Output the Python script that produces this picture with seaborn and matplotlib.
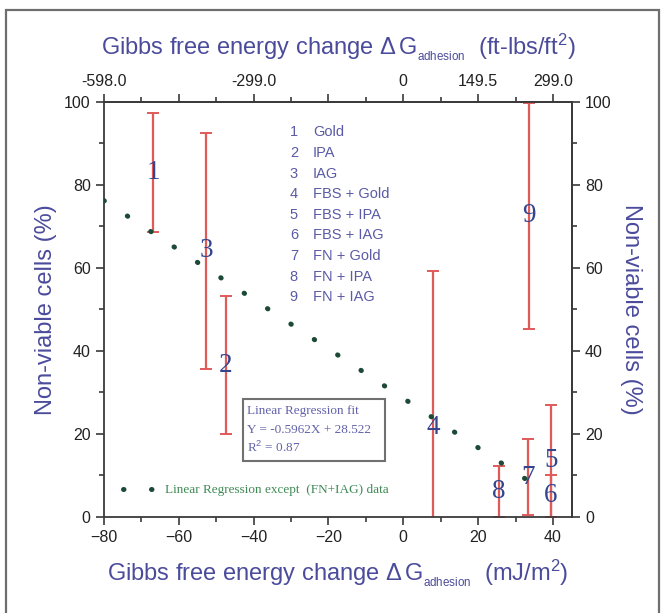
import matplotlib
matplotlib.use("Agg")
import matplotlib.pyplot as plt
import seaborn as sns
import pandas as pd
from matplotlib.patches import Rectangle

# Sample groups: marker digit, group name, adhesion free energy (mJ/m^2),
# non-viable cells (%) and the error on that percentage
labels = ["1", "2", "3", "4", "5", "6", "7", "8", "9"]
names = ["Gold", "IPA", "IAG", "FBS + Gold", "FBS + IPA", "FBS + IAG",
         "FN + Gold", "FN + IPA", "FN + IAG"]
delta_g = [-66.8, -47.4, -52.6, 7.9, 39.4, 39.4, 33.2, 25.5, 33.6]
nonviable = [83.0, 36.5, 64.1, 21.5, 13.4, 5.0, 9.5, 6.0, 72.5]
err = [14.3, 16.6, 28.5, 37.7, 13.4, 5.0, 9.2, 6.2, 27.3]

# Linear regression (all groups except FN + IAG)
slope = -0.5962
intercept = 28.522
r_squared = 0.87
fit_x = [-80.0, 34.0]

# Unit conversion used for the top axis (ft-lbs/ft^2 per mJ/m^2)
conv = 7.475
top_major = [-80, -60, -40, -20, 0, 20, 40]
top_labels = ["-598.0", "", "-299.0", "", "0", "149.5", "299.0"]

sns.set_theme(style="ticks")
plt.rcParams["font.family"] = ["Liberation Sans", "DejaVu Sans"]
plt.rcParams["mathtext.fontset"] = "custom"
plt.rcParams["mathtext.rm"] = "Liberation Sans"
plt.rcParams["mathtext.it"] = "Liberation Sans"

label_col = "#4b4b9c"
num_col = "#34458e"
bar_col = "#e05a5a"
fit_col = "#1c4a36"
axis_col = "#3a3a3a"

fig = plt.figure(figsize=(6.62, 6.13), dpi=100)
ax = fig.add_axes([0.157, 0.1574, 0.7066, 0.6762])

df = pd.DataFrame({"label": labels, "dg": delta_g, "nv": nonviable, "err": err})

# Error bars
ax.errorbar(df["dg"], df["nv"], yerr=df["err"], fmt="none", ecolor=bar_col,
            elinewidth=1.6, capsize=4, capthick=1.4, zorder=2)

# Regression line
fit_df = pd.DataFrame({"x": fit_x, "y": [slope * x + intercept for x in fit_x]})
sns.lineplot(data=fit_df, x="x", y="y", ax=ax, color=fit_col, lw=3.6,
             label="Linear Regression except  (FN+IAG) data", zorder=3)
fit_line = ax.lines[-1]
fit_line.set_linestyle((0, (0.1, 5.5)))
fit_line.set_dash_capstyle("round")

# Digit markers
for lab, x, y in zip(df["label"], df["dg"], df["nv"]):
    ax.text(x, y, lab, ha="center", va="center", fontsize=19.5,
            family=["Liberation Serif", "DejaVu Serif"], color=num_col, zorder=4)

ax.set_xlim(-80, 45)
ax.set_ylim(0, 100)
ax.set_xticks([-80, -60, -40, -20, 0, 20, 40])
ax.set_xticks(range(-70, 45, 20), minor=True)
ax.set_yticks(range(0, 101, 20))
ax.set_yticks(range(10, 100, 20), minor=True)

for s in ax.spines.values():
    s.set_visible(True)
    s.set_color(axis_col)
    s.set_linewidth(1.3)

tick_kw = dict(direction="out", colors=axis_col, labelcolor="#222222", width=1.2)
ax.tick_params(which="major", length=6, labelsize=11.5, **tick_kw)
ax.tick_params(which="minor", length=3.5, **tick_kw)

sub = r"$\Delta\,G_{_{\mathrm{adhesion}}}$"
ax.set_xlabel(f"Gibbs free energy change {sub}  (mJ/m$^2$)",
              fontsize=17, color=label_col, labelpad=9)
ax.set_ylabel("Non-viable cells (%)", fontsize=17, color=label_col, labelpad=5)

# Top axis in ft-lbs/ft^2
top = ax.secondary_xaxis("top", functions=(lambda x: x * conv, lambda x: x / conv))
top.set_xticks([v * conv for v in top_major])
top.set_xticklabels(top_labels)
top.set_xticks([v * conv for v in range(-70, 45, 20)], minor=True)
top.tick_params(which="major", length=6, labelsize=11.5, **tick_kw)
top.tick_params(which="minor", length=3.5, **tick_kw)
top.spines["top"].set_color(axis_col)
top.spines["top"].set_linewidth(1.3)
top.set_xlabel(f"Gibbs free energy change {sub}  (ft-lbs/ft$^2$)",
               fontsize=17, color=label_col, labelpad=14)

# Right axis
right = ax.secondary_yaxis("right")
right.set_yticks(range(0, 101, 20))
right.set_yticks(range(10, 100, 20), minor=True)
right.tick_params(which="major", length=6, labelsize=11.5, **tick_kw)
right.tick_params(which="minor", length=3.5, **tick_kw)
right.spines["right"].set_color(axis_col)
right.spines["right"].set_linewidth(1.3)
right.set_ylabel("Non-viable cells (%)", fontsize=17, color=label_col,
                 rotation=270, labelpad=22)

# Group key
for i, (lab, name) in enumerate(zip(labels, names)):
    yy = 0.927 - i * 0.0498
    ax.text(0.406, yy, lab, transform=ax.transAxes, ha="center", va="center",
            fontsize=10.5, color="#5a5aa6")
    ax.text(0.447, yy, name, transform=ax.transAxes, ha="left", va="center",
            fontsize=10.5, color="#5a5aa6")

# Fit summary box
ax.add_patch(Rectangle((0.297, 0.134), 0.304, 0.150, transform=ax.transAxes,
                       fill=False, edgecolor="#707070", lw=1.5, zorder=5))
fit_lines = ["Linear Regression fit",
             f"Y = {slope}X + {intercept}",
             f"R$^2$ = {r_squared}"]
for txt, yy in zip(fit_lines, [0.2534, 0.2092, 0.1657]):
    ax.text(0.306, yy, txt, transform=ax.transAxes, ha="left", va="center",
            fontsize=9.5, family=["Liberation Serif", "DejaVu Serif"], color="#6262aa")

leg = ax.legend(loc="lower left", bbox_to_anchor=(0.015, 0.02), frameon=False,
                handlelength=2.6, handletextpad=0.6,
                prop={"family": "Liberation Serif", "size": 9.5})
for t in leg.get_texts():
    t.set_color("#3f8a55")

# Outer frame
fig.patches.append(Rectangle((0.0098, -0.01), 0.9857, 0.9937, transform=fig.transFigure,
                             fill=False, edgecolor="#6e6e6e", lw=1.6))

fig.savefig("out.png", dpi=100, facecolor="white")
